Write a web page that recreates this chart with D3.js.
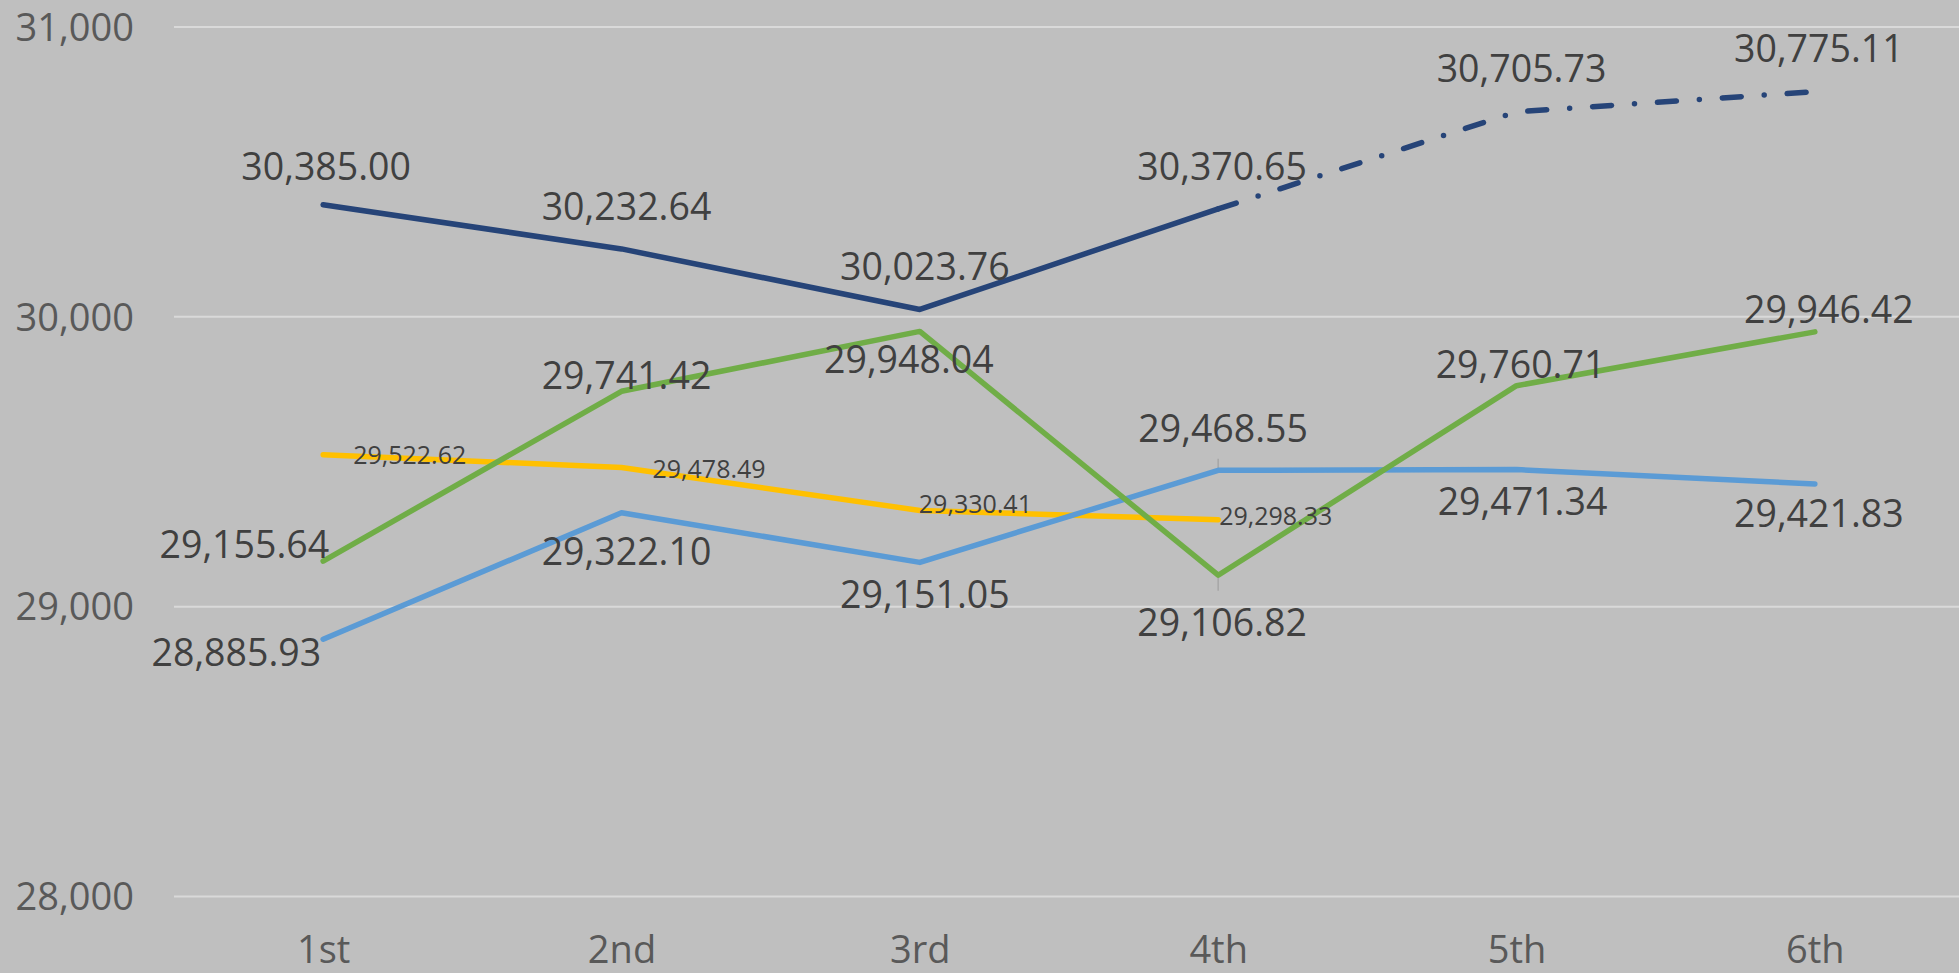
<!DOCTYPE html>
<html>
<head>
<meta charset="utf-8">
<script src="https://cdn.jsdelivr.net/npm/d3@7"></script>
<style>
  html, body { margin: 0; padding: 0; background: #BFBFBF; overflow: hidden; }
  svg { display: block; }
</style>
</head>
<body>
<svg id="chart" width="1959" height="973"></svg>
<script>
// ---- data ----
const categories = ["1st", "2nd", "3rd", "4th", "5th", "6th"];
const actualValues   = [30385.00, 30232.64, 30023.76, 30370.65, null, null];
const forecastValues = [null, null, null, 30370.65, 30705.73, 30775.11];
const blueValues     = [28885.93, 29322.10, 29151.05, 29468.55, 29471.34, 29421.83];
const greenValues    = [29155.64, 29741.42, 29948.04, 29106.82, 29760.71, 29946.42];
const yellowValues   = [29522.62, 29478.49, 29330.41, 29298.33, null, null];
const yTicks = [28000, 29000, 30000, 31000];
const errorBarCats  = ["4th", "4th"];
const errorBarFrom  = [29468.55, 29106.82];
const errorBarTo    = [29509, 29053];

// ---- label placement (anchor, dx, dy) ----
const actualLabelPos   = [["middle",3,-25],["middle",5,-29],["middle",5,-29],["middle",4,-29],null,null];
const forecastLabelPos = [null,null,null,null,["middle",5,-30],["middle",4,-30]];
const blueLabelPos     = [["end",-2,27],["middle",5,52],["middle",5,46],["middle",5,-28],["middle",6,45],["middle",4,43]];
const greenLabelPos    = [["end",6,-3],["middle",5,-2],["middle",-11,42],["middle",4,61],["middle",4,-8],["middle",14,-9]];
const yellowLabelPos   = [["start",30,9],["start",31,11],["start",-1,3],["start",1,5],null,null];

const W = 1959, H = 973;
const plotLeft = 174, plotRight = 1964, plotTop = 26.5, plotBottom = 896;

const svg = d3.select("#chart");
svg.append("rect").attr("width", W).attr("height", H).attr("fill", "#BFBFBF");

const x = d3.scalePoint().domain(categories).range([plotLeft, plotRight]).padding(0.5);
const y = d3.scaleLinear().domain([28000, 31000]).range([plotBottom, plotTop]);

// y axis with gridlines
const yAxis = d3.axisLeft(y).tickValues(yTicks).tickFormat(d3.format(","))
  .tickSizeInner(-(W - plotLeft)).tickSizeOuter(0).tickPadding(40);
const gy = svg.append("g").attr("transform", `translate(${plotLeft},0)`).call(yAxis);
gy.select(".domain").remove();
gy.selectAll(".tick line").attr("stroke", "#D9D9D9").attr("stroke-width", 2);
gy.selectAll(".tick text")
  .attr("fill", "#595959").attr("font-family", "'Open Sans', sans-serif")
  .attr("font-size", 38).attr("dy", "0.36em");

// x axis
const xAxis = d3.axisBottom(x).tickSize(0).tickPadding(40);
const gx = svg.append("g").attr("transform", `translate(0,${plotBottom})`).call(xAxis);
gx.select(".domain").remove();
gx.selectAll(".tick text")
  .attr("fill", "#595959").attr("font-family", "'Open Sans', sans-serif")
  .attr("font-size", 38);

// error bars
svg.append("g").selectAll("line").data(errorBarCats).join("line")
  .attr("x1", d => x(d)).attr("x2", d => x(d))
  .attr("y1", (d, i) => y(errorBarFrom[i])).attr("y2", (d, i) => y(errorBarTo[i]))
  .attr("stroke", "#A6A6A6").attr("stroke-width", 1.5);

function drawLine(values, color, dash) {
  const pts = values.map((v, i) => ({ c: categories[i], v }));
  const line = d3.line().defined(d => d.v != null).x(d => x(d.c)).y(d => y(d.v));
  const p = svg.append("path").datum(pts)
    .attr("d", line).attr("fill", "none").attr("stroke", color)
    .attr("stroke-width", 5.5).attr("stroke-linejoin", "round").attr("stroke-linecap", "round");
  if (dash) p.attr("stroke-dasharray", dash);
}

drawLine(yellowValues, "#FFC000");
drawLine(blueValues, "#5B9BD5");
drawLine(greenValues, "#70AD47");
drawLine(actualValues, "#264478");
drawLine(forecastValues, "#264478", "19,23,0,23");

const fmt = d3.format(",.2f");
function drawLabels(values, pos, size) {
  const items = values.map((v, i) => ({ c: categories[i], v, p: pos[i] }))
    .filter(d => d.v != null && d.p);
  svg.append("g").selectAll("text").data(items).join("text")
    .attr("x", d => x(d.c) + d.p[1])
    .attr("y", d => y(d.v) + d.p[2])
    .attr("text-anchor", d => d.p[0])
    .attr("font-family", "'Open Sans', sans-serif")
    .attr("font-size", size)
    .attr("fill", "#404040")
    .text(d => fmt(d.v));
}

drawLabels(yellowValues, yellowLabelPos, 25);
drawLabels(blueValues, blueLabelPos, 37.5);
drawLabels(greenValues, greenLabelPos, 37.5);
drawLabels(actualValues, actualLabelPos, 37.5);
drawLabels(forecastValues, forecastLabelPos, 37.5);
</script>
</body>
</html>
